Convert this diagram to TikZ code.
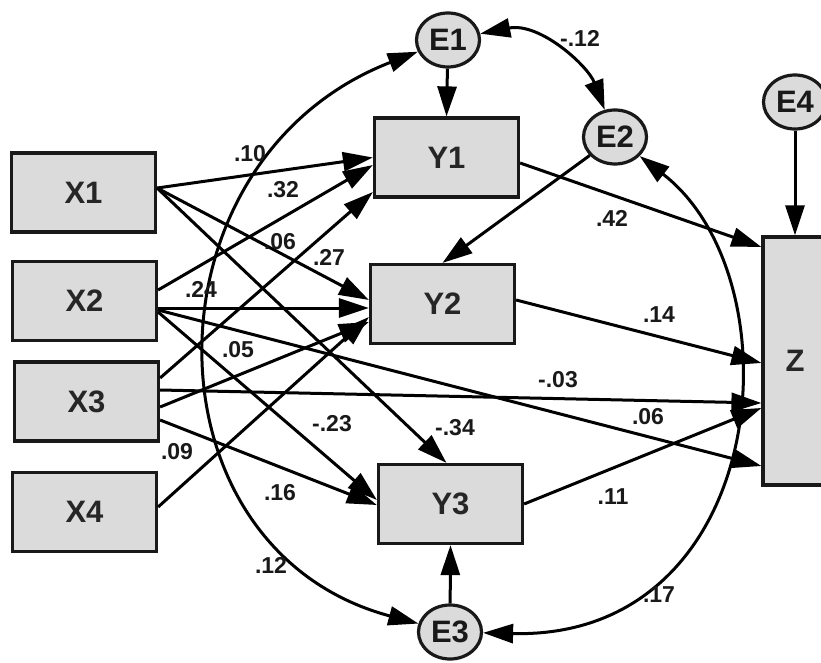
\documentclass[tikz,border=0pt]{standalone}
\usepackage{fontspec}
\setmainfont{Liberation Sans}
\usetikzlibrary{arrows.meta,shapes.geometric}
\begin{document}
\begin{tikzpicture}[x=1pt,y=-1pt,
  box/.style={draw=black!90, line width=3.2pt, fill=black!14, minimum width=144pt, minimum height=79pt, inner sep=0pt, text=black!85, font=\fontsize{31}{31}\selectfont\bfseries},
  err/.style={ellipse, draw=black!90, line width=3.2pt, fill=black!14, minimum width=63pt, minimum height=54pt, inner sep=0pt, text=black!90, font=\fontsize{31}{31}\selectfont\bfseries},
  pth/.style={line width=3pt, -{Triangle[length=30pt,width=19pt]}},
  both/.style={line width=3pt, {Triangle[length=30pt,width=19pt]}-{Triangle[length=30pt,width=19pt]}},
  lab/.style={inner sep=0pt, text=black!90, font=\fontsize{23}{23}\selectfont\bfseries}]
\useasboundingbox (0,0) rectangle (821,663);
\clip (0,0) rectangle (821,663);
\fill[white] (0,0) rectangle (821,663);
% boxes
\node[box] (X1) at (83.5,192.5) {X1};
\node[box] (X2) at (84.5,301) {X2};
\node[box] (X3) at (86.5,401.5) {X3};
\node[box] (X4) at (84.5,512) {X4};
\node[box] (Y1) at (446.5,157.5) {Y1};
\node[box] (Y2) at (442.5,304) {Y2};
\node[box] (Y3) at (450.5,504) {Y3};
\node[box, minimum width=64pt, minimum height=248pt] (Z) at (795,361) {Z};
% error terms
\node[err] (E1) at (448,40) {E1};
\node[err] (E2) at (615,137) {E2};
\node[err] (E3) at (450,632) {E3};
\node[err] (E4) at (795,102) {E4};
% paths from X
\draw[pth] ([yshift=4.5pt]X1.east) -- (Y1.west);
\draw[pth] ([yshift=4.5pt]X1.east) -- ([yshift=4pt]Y2.west);
\draw[pth] ([yshift=4.5pt]X1.east) -- ([xshift=-4pt]Y3.north);
\draw[pth] ([yshift=11pt]X2.east) -- ([yshift=-7.5pt]Y1.west);
\draw[pth] ([yshift=-7pt]X2.east) -- ([yshift=-4pt]Y2.west);
\draw[pth] ([yshift=-11pt]X2.east) -- ([yshift=4pt]Y3.west);
\draw[pth] ([yshift=-9pt]X2.east) -- ([yshift=-105pt]Z.west);
\draw[pth] ([yshift=23.5pt]X3.east) -- ([yshift=-34.5pt]Y1.west);
\draw[pth] ([yshift=-5.5pt]X3.east) -- ([yshift=-18pt]Y2.west);
\draw[pth] ([yshift=-18.5pt]X3.east) -- ([yshift=-1pt]Y3.west);
\draw[pth] ([yshift=11.5pt]X3.east) -- ([yshift=-42pt]Z.west);
\draw[pth] ([yshift=5pt]X4.east) -- ([yshift=-13pt]Y2.west);
% paths to Z
\draw[pth] ([yshift=-5.5pt]Y1.east) -- ([yshift=114pt]Z.west);
\draw[pth] ([yshift=4pt]Y2.east) -- ([yshift=-2pt]Z.west);
\draw[pth] (Y3.east) -- ([yshift=-47pt]Z.west);
% error paths
\draw[pth] (E1) -- (Y1.north);
\draw[pth] (E2) -- (Y2.north);
\draw[pth] (E3) -- (Y3.south);
\draw[pth] (E4) -- (Z.north);
% covariances
\draw[both] (E1) .. controls (139,160) and (139,549) .. (E3);
\draw[both] (E1) .. controls (540,22) and (588,66) .. (E2);
\draw[both] (E2) .. controls (800,280) and (770,640) .. (E3);
% labels
\node[lab] (l1) at (250,154) {.10};
\node[lab] (l2) at (283,190) {.32};
\node[lab] (l3) at (280,242) {.06};
\node[lab] (l4) at (329,257) {.27};
\node[lab] (l5) at (201,289) {.24};
\node[lab] (l6) at (238,350) {.05};
\node[lab] (l7) at (332,424) {-.23};
\node[lab] (l8) at (177,452) {.09};
\node[lab] (l9) at (280,493) {.16};
\node[lab] (l10) at (271,565) {.12};
\node[lab] (l11) at (580,38) {-.12};
\node[lab] (l12) at (612,218) {.42};
\node[lab] (l13) at (659,315) {.14};
\node[lab] (l14) at (558,380) {-.03};
\node[lab] (l15) at (648,417) {.06};
\node[lab] (l16) at (455,428) {-.34};
\node[lab] (l17) at (613,497) {.11};
\node[lab] (l18) at (659,595) {.17};
\end{tikzpicture}
\end{document}
